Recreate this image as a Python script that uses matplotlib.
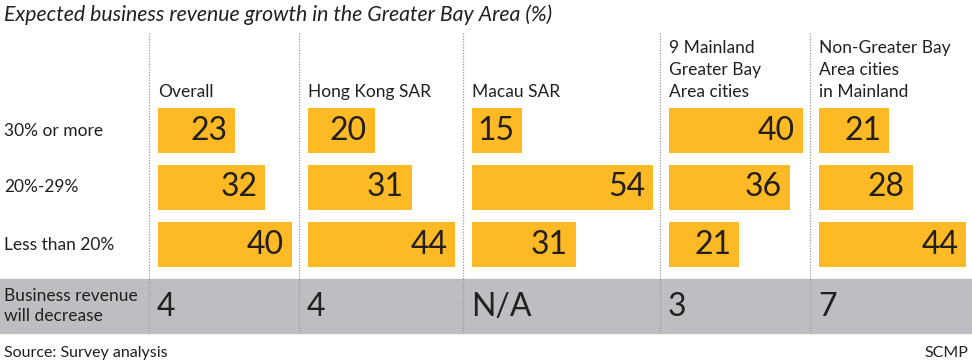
import matplotlib.pyplot as plt

# chart data
groups = ['Overall', 'Hong Kong SAR', 'Macau SAR',
          '9 Mainland\nGreater Bay\nArea cities',
          'Non-Greater Bay\nArea cities\nin Mainland']
rows = ['30% or more', '20%-29%', 'Less than 20%']
overall = [23, 32, 40]
hong_kong = [20, 31, 44]
macau = [15, 54, 31]
mainland_gba = [40, 36, 21]
non_gba = [21, 28, 44]
decrease = ['4', '4', 'N/A', '3', '7']

series = [overall, hong_kong, macau, mainland_gba, non_gba]

W, H = 972, 364
YELLOW = '#fdba25'
GREY = '#bdbec1'
TXT = '#231f20'
FONT = 'Lato'

plt.rcParams['font.family'] = [FONT, 'DejaVu Sans']

fig = plt.figure(figsize=(W / 100, H / 100), dpi=100)
bg = fig.add_axes([0, 0, 1, 1])
bg.set_xlim(0, W)
bg.set_ylim(H, 0)
bg.axis('off')

# layout in pixels
dividers = [149, 299, 463, 660, 810]
px_per_unit = 3.35
row_top, row_pitch, bar_h = 102, 57, 45
band_top, band_bot = 279, 333

bg.axhspan(band_top, band_bot, color=GREY, zorder=0)
for d in dividers:
    bg.plot([d, d], [33, band_bot], color='#9a9a9a', lw=0.9, ls=(0, (1, 1.2)), zorder=1)

bg.text(4, 21, 'Expected business revenue growth in the Greater Bay Area (%)',
        fontsize=15.3, style='italic', color=TXT, va='baseline')

for i, r in enumerate(rows):
    bg.text(4, row_top + row_pitch * (i + 0.5), r, fontsize=12.5, color=TXT, va='center')
bg.text(4, 306, 'Business revenue\nwill decrease', fontsize=12.5, color=TXT, va='center',
        linespacing=1.35)

bg.text(4, 353, 'Source: Survey analysis', fontsize=11.5, color=TXT, va='center')
bg.text(968, 353, 'SCMP', fontsize=11.5, color=TXT, va='center', ha='right')

for j, (name, vals) in enumerate(zip(groups, series)):
    x0 = dividers[j] + 9
    x1 = dividers[j + 1] if j + 1 < len(dividers) else W
    ax = fig.add_axes([x0 / W, 1 - (row_top + row_pitch * 3) / H,
                       (x1 - x0) / W, row_pitch * 3 / H])
    ax.set_xlim(0, (x1 - x0) / px_per_unit)
    ax.set_ylim(2.5, -0.5)
    ax.axis('off')
    ax.barh(range(len(rows)), vals, height=bar_h / row_pitch, color=YELLOW)
    for k, v in enumerate(vals):
        ax.annotate(str(v), (v, k), xytext=(-8, 0), textcoords='offset pixels',
                    ha='right', va='center', fontsize=23, color=TXT)
    bg.text(x0, 97, name, fontsize=12.5, color=TXT, va='baseline', linespacing=1.45)
    bg.text(x0 - 1, 307, decrease[j], fontsize=23, color=TXT, va='center')

fig.savefig('out.png', dpi=100)
